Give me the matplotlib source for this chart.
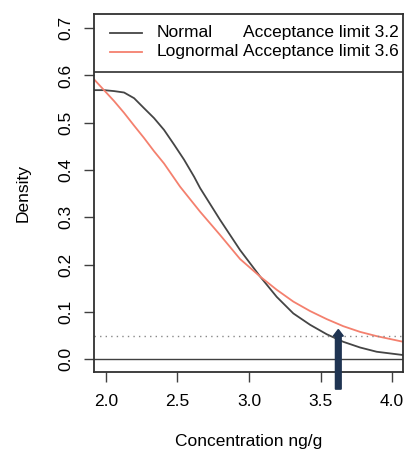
import numpy as np
import matplotlib.pyplot as plt

plt.rcParams['font.family'] = ['Liberation Sans', 'DejaVu Sans']

# curves
x_norm = [1.918, 1.988, 2.058, 2.128, 2.198, 2.267, 2.337, 2.407, 2.477, 2.547,
          2.617, 2.659, 2.798, 2.938, 3.078, 3.194, 3.310, 3.427, 3.543, 3.659,
          3.776, 3.892, 4.078]
y_norm = [0.569, 0.569, 0.567, 0.564, 0.552, 0.531, 0.510, 0.485, 0.454, 0.422,
          0.386, 0.362, 0.295, 0.231, 0.175, 0.132, 0.097, 0.073, 0.053, 0.037,
          0.025, 0.016, 0.009]

x_logn = [1.918, 1.988, 2.058, 2.128, 2.198, 2.267, 2.337, 2.407, 2.519, 2.659,
          2.798, 2.938, 3.078, 3.194, 3.310, 3.427, 3.543, 3.659, 3.776, 3.892,
          4.078]
y_logn = [0.592, 0.569, 0.546, 0.521, 0.494, 0.468, 0.440, 0.414, 0.365, 0.312,
          0.263, 0.212, 0.175, 0.147, 0.122, 0.102, 0.085, 0.070, 0.058, 0.049,
          0.037]

threshold = 0.05
arrow_x = 3.624
labels = ['Normal', 'Lognormal']
limits = ['Acceptance limit 3.2', 'Acceptance limit 3.6']
colors = ['#454545', '#f4806e']

fig = plt.figure(figsize=(4.06, 4.51), dpi=100)
ax = fig.add_axes([0.2315, 0.1758, 0.9934 - 0.2315, 0.969 - 0.1758])

ax.plot(x_norm, y_norm, color=colors[0], lw=1.3)
ax.plot(x_logn, y_logn, color=colors[1], lw=1.3)
ax.axhline(0, color='#404040', lw=1)
ax.axhline(threshold, color='#888888', lw=1, linestyle=(0, (1, 3)))
ax.axhline(0.6075, color='#303030', lw=1.2)

# arrow at the lognormal limit
ax.arrow(arrow_x, -0.063, 0, 0.126, width=0.04, head_width=0.07,
         head_length=0.014, length_includes_head=True, color='#1f3452',
         clip_on=False, zorder=5)

ax.set_xlim(1.918, 4.078)
ax.set_ylim(-0.0262, 0.730)
ax.set_xticks([2.0, 2.5, 3.0, 3.5, 4.0])
ax.set_yticks([0.0, 0.1, 0.2, 0.3, 0.4, 0.5, 0.6, 0.7])
ax.set_yticklabels(['0.0', '0.1', '0.2', '0.3', '0.4', '0.5', '0.6', '0.7'],
                   rotation=90, va='center')
ax.tick_params(axis='both', labelsize=12.5, length=7, width=1, color='#404040')
ax.tick_params(axis='x', pad=9)
ax.tick_params(axis='y', pad=8)
for s in ax.spines.values():
    s.set_color('#303030')
    s.set_linewidth(1.3)

ax.set_xlabel('Concentration ng/g', fontsize=12.5, labelpad=18)
ax.set_ylabel('Density', fontsize=12.5, labelpad=20)

# legend drawn by hand so the columns line up
for i in range(2):
    yy = 0.947 - i * 0.053
    ax.plot([0.052, 0.155], [yy, yy], color=colors[i], lw=1.3,
            transform=ax.transAxes)
    ax.text(0.204, yy, labels[i], transform=ax.transAxes, fontsize=12.5,
            va='center', ha='left')
    ax.text(0.482, yy, limits[i], transform=ax.transAxes, fontsize=12.5,
            va='center', ha='left')

fig.savefig('out.png', dpi=100)
